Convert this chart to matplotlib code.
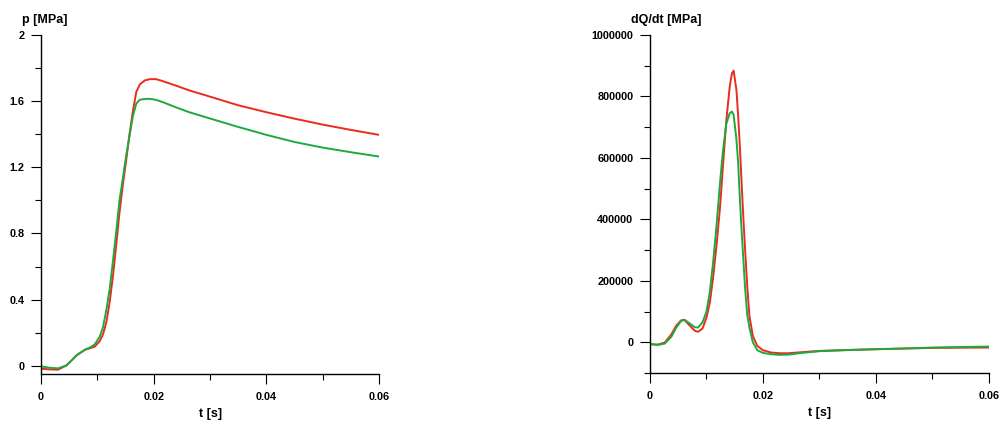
import matplotlib
matplotlib.use('Agg')
from matplotlib import pyplot as plt
from matplotlib.ticker import MultipleLocator, FuncFormatter

plt.rcParams['font.family'] = ['Liberation Sans', 'DejaVu Sans']
plt.rcParams['font.weight'] = 'bold'
plt.rcParams['font.size'] = 7.8

RED = '#ec2a1f'
GREEN = '#1daa3c'

# pressure curves (left)
t_p = [0, 0.0015, 0.0030, 0.0045, 0.0055, 0.0063, 0.0078, 0.0086, 0.0095, 0.0104,
       0.0110, 0.0116, 0.0122, 0.0128, 0.0134, 0.0139, 0.0145, 0.0151, 0.0157, 0.0163,
       0.0169, 0.0175, 0.0184, 0.0193, 0.0204, 0.0216, 0.0240, 0.0263, 0.0300, 0.035,
       0.040, 0.045, 0.050, 0.055, 0.060]
p_red = [-0.018, -0.022, -0.024, 0.002, 0.035, 0.063, 0.097, 0.105, 0.115, 0.148,
         0.19, 0.265, 0.39, 0.555, 0.75, 0.92, 1.09, 1.24, 1.40, 1.54,
         1.655, 1.70, 1.725, 1.733, 1.733, 1.721, 1.693, 1.665, 1.627, 1.575,
         1.533, 1.494, 1.458, 1.426, 1.396]
p_green = [-0.004, -0.012, -0.016, 0.002, 0.035, 0.063, 0.097, 0.109, 0.128, 0.175,
           0.234, 0.34, 0.47, 0.645, 0.83, 0.995, 1.13, 1.27, 1.39, 1.51,
           1.585, 1.608, 1.613, 1.614, 1.608, 1.594, 1.562, 1.533, 1.495, 1.444,
           1.396, 1.353, 1.319, 1.291, 1.265]

# heat release rate curves (right)
t_q = [0, 0.0014, 0.0026, 0.0038, 0.0046, 0.0055, 0.0061, 0.0070, 0.0079, 0.0085,
       0.0093, 0.0100, 0.0106, 0.0112, 0.0118, 0.0124, 0.0129, 0.0135, 0.0141, 0.0145,
       0.0148, 0.0153, 0.0156, 0.0159, 0.0162, 0.0165, 0.0168, 0.0172, 0.0176, 0.0182,
       0.0190, 0.0200, 0.0215, 0.0230, 0.0245, 0.027, 0.030, 0.035, 0.040, 0.045,
       0.050, 0.055, 0.060]
q_red = [-6500, -7600, -1000, 26000, 53000, 71400, 72500, 55000, 38000, 34000,
         45000, 80000, 130000, 215000, 320000, 440000, 570000, 720000, 830000, 875000,
         884000, 821000, 738000, 640000, 525000, 414000, 312000, 185000, 85500, 20600,
         -11900, -26000, -33500, -35700, -35700, -32000, -28000, -25000, -22600, -20500,
         -18300, -17600, -17200]
q_green = [-5400, -8700, -4300, 18400, 46500, 69300, 73600, 61700, 49000, 48000,
           65000, 100000, 165000, 265000, 385000, 520000, 620000, 710000, 745000, 751000,
           740000, 660000, 585000, 470000, 368000, 277000, 185000, 90000, 48000, 0,
           -26000, -34600, -39000, -41000, -40000, -34400, -29000, -25500, -22600, -20000,
           -17200, -15500, -14000]

x_ticks = [0, 0.02, 0.04, 0.06]


def fmt(v, pos):
    if abs(v - round(v)) < 1e-9:
        return str(int(round(v)))
    return '%g' % v


def style_axes(ax, ylabel):
    for side in ['top', 'right']:
        ax.spines[side].set_visible(False)
    ax.spines['left'].set_linewidth(1.0)
    ax.spines['bottom'].set_linewidth(1.0)
    ax.set_xlim(0, 0.06)
    ax.set_xticks(x_ticks)
    ax.xaxis.set_minor_locator(MultipleLocator(0.01))
    ax.xaxis.set_major_formatter(FuncFormatter(fmt))
    ax.yaxis.set_major_formatter(FuncFormatter(fmt))
    ax.tick_params(which='major', length=7, width=0.8)
    ax.tick_params(which='minor', length=4, width=0.8)
    ax.tick_params(axis='x', which='major', pad=6)
    ax.tick_params(axis='y', which='major', pad=5)
    ax.set_xlabel('t [s]', fontweight='bold', fontsize=9, labelpad=4)
    ax.text(-0.055, 1.045, ylabel, transform=ax.transAxes, ha='left', va='center',
            fontweight='bold', fontsize=9)


fig = plt.figure(figsize=(10.02, 4.21), dpi=100)
ax1 = fig.add_axes([0.041, 0.1116, 0.3373, 0.8053])
ax2 = fig.add_axes([0.6487, 0.114, 0.3383, 0.8029])

ax1.plot(t_p, p_red, color=RED, lw=1.4)
ax1.plot(t_p, p_green, color=GREEN, lw=1.4)
ax1.set_ylim(-0.05, 2)
ax1.set_yticks([0, 0.4, 0.8, 1.2, 1.6, 2])
ax1.yaxis.set_minor_locator(MultipleLocator(0.2))
style_axes(ax1, 'p [MPa]')

ax2.plot(t_q, q_red, color=RED, lw=1.4)
ax2.plot(t_q, q_green, color=GREEN, lw=1.4)
ax2.set_ylim(-100000, 1000000)
ax2.set_yticks([0, 200000, 400000, 600000, 800000, 1000000])
ax2.yaxis.set_minor_locator(MultipleLocator(100000))
style_axes(ax2, 'dQ/dt [MPa]')

fig.savefig('out.png', dpi=100)
